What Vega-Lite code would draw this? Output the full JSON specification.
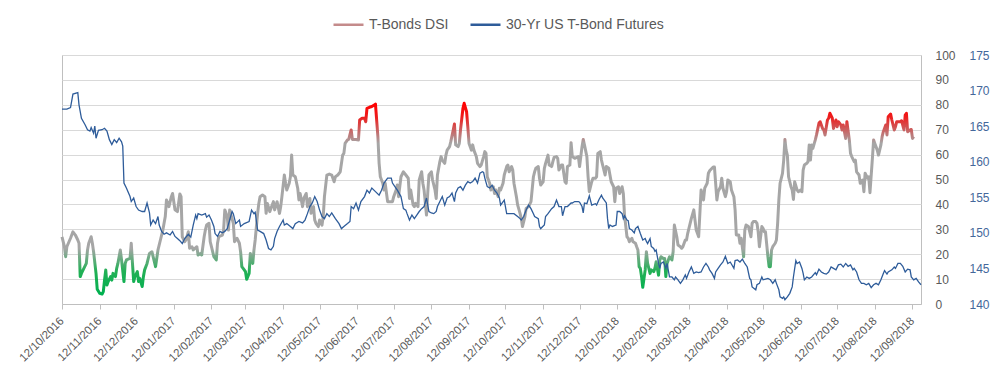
{
  "$schema": "https://vega.github.io/schema/vega-lite/v6.json",
  "width": 859,
  "height": 249,
  "autosize": {"type": "none"},
  "padding": {"left": 62, "top": 55, "right": 79, "bottom": 77},
  "background": "white",
  "config": {
    "font": "Liberation Sans",
    "view": {"stroke": "#bfbfbf", "strokeWidth": 1}
  },
  "datasets": {
    "dsi": [
      {"d":"2016-10-12","v":27.0},{"d":"2016-10-14","v":23.0},{"d":"2016-10-15","v":19.0},{"d":"2016-10-16","v":23.0},{"d":"2016-10-19","v":26.4},{"d":"2016-10-21","v":29.0},{"d":"2016-10-23","v":27.7},{"d":"2016-10-25","v":25.7},{"d":"2016-10-26","v":24.4},{"d":"2016-10-27","v":11.0},{"d":"2016-10-28","v":12.3},{"d":"2016-10-30","v":14.3},
      {"d":"2016-11-01","v":16.3},{"d":"2016-11-02","v":21.7},{"d":"2016-11-03","v":24.4},{"d":"2016-11-05","v":27.0},{"d":"2016-11-06","v":24.4},{"d":"2016-11-07","v":21.0},{"d":"2016-11-09","v":12.3},{"d":"2016-11-10","v":5.9},{"d":"2016-11-12","v":4.3},{"d":"2016-11-14","v":4.0},{"d":"2016-11-15","v":5.0},{"d":"2016-11-16","v":9.6},{"d":"2016-11-17","v":13.7},{"d":"2016-11-18","v":7.6},{"d":"2016-11-19","v":9.0},{"d":"2016-11-21","v":11.0},{"d":"2016-11-22","v":9.6},{"d":"2016-11-23","v":12.3},{"d":"2016-11-25","v":11.0},{"d":"2016-11-26","v":14.3},{"d":"2016-11-27","v":16.3},{"d":"2016-11-29","v":21.7},{"d":"2016-11-30","v":17.7},
      {"d":"2016-12-02","v":9.0},{"d":"2016-12-03","v":16.3},{"d":"2016-12-04","v":17.7},{"d":"2016-12-07","v":18.3},{"d":"2016-12-08","v":24.4},{"d":"2016-12-09","v":16.3},{"d":"2016-12-10","v":9.0},{"d":"2016-12-11","v":11.0},{"d":"2016-12-13","v":13.0},{"d":"2016-12-14","v":9.0},{"d":"2016-12-15","v":10.3},{"d":"2016-12-17","v":7.0},{"d":"2016-12-18","v":11.0},{"d":"2016-12-19","v":13.7},{"d":"2016-12-21","v":16.3},{"d":"2016-12-23","v":20.3},{"d":"2016-12-25","v":21.0},{"d":"2016-12-27","v":17.0},{"d":"2016-12-28","v":15.0},{"d":"2016-12-30","v":21.7},
      {"d":"2017-01-01","v":25.7},{"d":"2017-01-03","v":29.7},{"d":"2017-01-05","v":35.1},{"d":"2017-01-06","v":41.8},{"d":"2017-01-08","v":39.1},{"d":"2017-01-10","v":43.1},{"d":"2017-01-11","v":44.4},{"d":"2017-01-13","v":37.8},{"d":"2017-01-15","v":37.1},{"d":"2017-01-17","v":44.2},{"d":"2017-01-18","v":43.1},{"d":"2017-01-19","v":27.0},{"d":"2017-01-21","v":25.0},{"d":"2017-01-22","v":25.7},{"d":"2017-01-24","v":29.0},{"d":"2017-01-25","v":22.4},{"d":"2017-01-27","v":23.0},{"d":"2017-01-28","v":21.7},{"d":"2017-01-31","v":23.0},
      {"d":"2017-02-01","v":19.7},{"d":"2017-02-03","v":20.3},{"d":"2017-02-04","v":19.7},{"d":"2017-02-06","v":27.0},{"d":"2017-02-07","v":29.7},{"d":"2017-02-08","v":31.7},{"d":"2017-02-10","v":32.4},{"d":"2017-02-11","v":25.0},{"d":"2017-02-12","v":23.0},{"d":"2017-02-14","v":19.0},{"d":"2017-02-16","v":17.7},{"d":"2017-02-17","v":24.4},{"d":"2017-02-18","v":27.0},{"d":"2017-02-21","v":27.7},{"d":"2017-02-22","v":29.7},{"d":"2017-02-23","v":37.8},{"d":"2017-02-25","v":35.1},{"d":"2017-02-26","v":29.7},{"d":"2017-02-27","v":37.8},
      {"d":"2017-03-02","v":32.4},{"d":"2017-03-03","v":25.0},{"d":"2017-03-04","v":25.7},{"d":"2017-03-05","v":26.4},{"d":"2017-03-07","v":24.4},{"d":"2017-03-08","v":21.0},{"d":"2017-03-09","v":15.0},{"d":"2017-03-11","v":13.7},{"d":"2017-03-12","v":13.0},{"d":"2017-03-13","v":9.9},{"d":"2017-03-15","v":12.3},{"d":"2017-03-16","v":20.3},{"d":"2017-03-18","v":16.3},{"d":"2017-03-19","v":21.7},{"d":"2017-03-20","v":25.7},{"d":"2017-03-22","v":36.4},{"d":"2017-03-23","v":40.4},{"d":"2017-03-24","v":43.1},{"d":"2017-03-26","v":43.8},{"d":"2017-03-28","v":43.1},{"d":"2017-03-29","v":36.4},{"d":"2017-03-30","v":40.4},
      {"d":"2017-04-01","v":37.1},{"d":"2017-04-03","v":39.8},{"d":"2017-04-04","v":41.1},{"d":"2017-04-05","v":37.8},{"d":"2017-04-07","v":41.1},{"d":"2017-04-09","v":36.4},{"d":"2017-04-10","v":39.1},{"d":"2017-04-11","v":43.1},{"d":"2017-04-13","v":51.8},{"d":"2017-04-14","v":48.5},{"d":"2017-04-15","v":45.8},{"d":"2017-04-17","v":48.5},{"d":"2017-04-18","v":51.1},{"d":"2017-04-19","v":59.8},{"d":"2017-04-20","v":51.8},{"d":"2017-04-22","v":51.1},{"d":"2017-04-24","v":46.5},{"d":"2017-04-25","v":41.8},{"d":"2017-04-26","v":44.4},{"d":"2017-04-28","v":39.1},{"d":"2017-04-29","v":42.4},
      {"d":"2017-05-01","v":44.4},{"d":"2017-05-02","v":39.1},{"d":"2017-05-04","v":42.4},{"d":"2017-05-05","v":36.4},{"d":"2017-05-07","v":39.1},{"d":"2017-05-08","v":33.7},{"d":"2017-05-09","v":32.4},{"d":"2017-05-11","v":31.1},{"d":"2017-05-12","v":33.7},{"d":"2017-05-14","v":31.7},{"d":"2017-05-15","v":35.1},{"d":"2017-05-16","v":43.1},{"d":"2017-05-18","v":51.8},{"d":"2017-05-20","v":52.2},{"d":"2017-05-22","v":51.8},{"d":"2017-05-24","v":49.1},{"d":"2017-05-25","v":51.1},{"d":"2017-05-27","v":51.8},{"d":"2017-05-29","v":53.1},{"d":"2017-05-31","v":59.8},
      {"d":"2017-06-01","v":60.5},{"d":"2017-06-02","v":64.5},{"d":"2017-06-04","v":65.9},{"d":"2017-06-05","v":66.1},{"d":"2017-06-07","v":69.9},{"d":"2017-06-08","v":66.1},{"d":"2017-06-09","v":66.1},{"d":"2017-06-11","v":66.1},{"d":"2017-06-13","v":65.9},{"d":"2017-06-14","v":73.9},{"d":"2017-06-16","v":74.6},{"d":"2017-06-18","v":74.6},{"d":"2017-06-19","v":73.2},{"d":"2017-06-20","v":78.6},{"d":"2017-06-22","v":79.0},{"d":"2017-06-24","v":79.3},{"d":"2017-06-26","v":79.9},{"d":"2017-06-27","v":80.3},{"d":"2017-06-29","v":67.2},{"d":"2017-06-30","v":56.5},
      {"d":"2017-07-01","v":51.1},{"d":"2017-07-03","v":48.5},{"d":"2017-07-04","v":45.8},{"d":"2017-07-05","v":48.5},{"d":"2017-07-07","v":41.1},{"d":"2017-07-09","v":41.1},{"d":"2017-07-11","v":41.1},{"d":"2017-07-12","v":43.1},{"d":"2017-07-14","v":45.8},{"d":"2017-07-15","v":47.8},{"d":"2017-07-16","v":43.1},{"d":"2017-07-18","v":51.1},{"d":"2017-07-20","v":53.1},{"d":"2017-07-22","v":51.8},{"d":"2017-07-24","v":50.5},{"d":"2017-07-25","v":42.4},{"d":"2017-07-26","v":45.8},{"d":"2017-07-28","v":39.8},{"d":"2017-07-29","v":39.1},{"d":"2017-07-30","v":40.4},
      {"d":"2017-08-01","v":39.1},{"d":"2017-08-02","v":49.8},{"d":"2017-08-04","v":53.1},{"d":"2017-08-05","v":48.5},{"d":"2017-08-06","v":45.8},{"d":"2017-08-08","v":35.7},{"d":"2017-08-09","v":44.4},{"d":"2017-08-10","v":51.8},{"d":"2017-08-12","v":53.1},{"d":"2017-08-13","v":49.8},{"d":"2017-08-15","v":45.8},{"d":"2017-08-16","v":42.4},{"d":"2017-08-17","v":51.8},{"d":"2017-08-19","v":57.2},{"d":"2017-08-20","v":59.2},{"d":"2017-08-21","v":57.8},{"d":"2017-08-23","v":56.5},{"d":"2017-08-24","v":59.8},{"d":"2017-08-25","v":61.8},{"d":"2017-08-27","v":63.2},{"d":"2017-08-28","v":65.2},{"d":"2017-08-30","v":69.9},{"d":"2017-08-31","v":72.3},
      {"d":"2017-09-01","v":63.9},{"d":"2017-09-03","v":63.2},{"d":"2017-09-04","v":64.5},{"d":"2017-09-05","v":69.9},{"d":"2017-09-07","v":78.6},{"d":"2017-09-08","v":80.6},{"d":"2017-09-10","v":77.2},{"d":"2017-09-11","v":71.2},{"d":"2017-09-12","v":64.5},{"d":"2017-09-14","v":61.8},{"d":"2017-09-15","v":63.9},{"d":"2017-09-16","v":61.8},{"d":"2017-09-18","v":59.2},{"d":"2017-09-19","v":56.5},{"d":"2017-09-21","v":55.2},{"d":"2017-09-22","v":55.8},{"d":"2017-09-24","v":59.2},{"d":"2017-09-25","v":61.2},{"d":"2017-09-26","v":60.5},{"d":"2017-09-27","v":51.1},{"d":"2017-09-29","v":48.5},{"d":"2017-09-30","v":45.8},
      {"d":"2017-10-02","v":47.1},{"d":"2017-10-03","v":44.4},{"d":"2017-10-04","v":45.8},{"d":"2017-10-06","v":43.1},{"d":"2017-10-07","v":46.5},{"d":"2017-10-08","v":45.8},{"d":"2017-10-10","v":48.5},{"d":"2017-10-11","v":51.8},{"d":"2017-10-13","v":55.2},{"d":"2017-10-14","v":55.8},{"d":"2017-10-15","v":53.1},{"d":"2017-10-17","v":55.2},{"d":"2017-10-18","v":53.8},{"d":"2017-10-19","v":48.5},{"d":"2017-10-21","v":43.1},{"d":"2017-10-22","v":39.8},{"d":"2017-10-24","v":36.4},{"d":"2017-10-25","v":34.4},{"d":"2017-10-26","v":31.1},{"d":"2017-10-28","v":35.1},{"d":"2017-10-29","v":38.4},{"d":"2017-10-31","v":39.1},
      {"d":"2017-11-02","v":41.1},{"d":"2017-11-04","v":51.1},{"d":"2017-11-05","v":53.1},{"d":"2017-11-06","v":54.5},{"d":"2017-11-08","v":55.2},{"d":"2017-11-09","v":50.5},{"d":"2017-11-10","v":47.8},{"d":"2017-11-12","v":49.1},{"d":"2017-11-13","v":54.5},{"d":"2017-11-14","v":56.5},{"d":"2017-11-16","v":59.8},{"d":"2017-11-17","v":55.8},{"d":"2017-11-19","v":55.2},{"d":"2017-11-20","v":57.2},{"d":"2017-11-21","v":58.9},{"d":"2017-11-23","v":59.2},{"d":"2017-11-24","v":58.5},{"d":"2017-11-25","v":53.8},{"d":"2017-11-27","v":55.8},{"d":"2017-11-28","v":55.8},{"d":"2017-11-30","v":49.1},
      {"d":"2017-12-01","v":48.5},{"d":"2017-12-02","v":55.2},{"d":"2017-12-04","v":55.8},{"d":"2017-12-05","v":64.8},{"d":"2017-12-06","v":59.2},{"d":"2017-12-08","v":58.5},{"d":"2017-12-11","v":59.2},{"d":"2017-12-12","v":55.2},{"d":"2017-12-14","v":63.2},{"d":"2017-12-15","v":66.1},{"d":"2017-12-16","v":63.9},{"d":"2017-12-18","v":59.2},{"d":"2017-12-19","v":51.1},{"d":"2017-12-20","v":45.1},{"d":"2017-12-22","v":49.1},{"d":"2017-12-23","v":50.5},{"d":"2017-12-25","v":50.5},{"d":"2017-12-26","v":51.1},{"d":"2017-12-27","v":60.5},{"d":"2017-12-29","v":61.2},{"d":"2017-12-30","v":57.8},{"d":"2017-12-31","v":55.8},
      {"d":"2018-01-02","v":51.8},{"d":"2018-01-03","v":55.2},{"d":"2018-01-05","v":54.5},{"d":"2018-01-06","v":51.8},{"d":"2018-01-07","v":49.1},{"d":"2018-01-09","v":47.1},{"d":"2018-01-10","v":41.1},{"d":"2018-01-11","v":46.5},{"d":"2018-01-13","v":47.1},{"d":"2018-01-14","v":44.4},{"d":"2018-01-16","v":47.1},{"d":"2018-01-17","v":44.4},{"d":"2018-01-18","v":35.7},{"d":"2018-01-20","v":27.0},{"d":"2018-01-21","v":26.4},{"d":"2018-01-22","v":25.0},{"d":"2018-01-24","v":26.4},{"d":"2018-01-25","v":25.0},{"d":"2018-01-27","v":24.4},{"d":"2018-01-28","v":23.0},{"d":"2018-01-29","v":21.7},{"d":"2018-01-30","v":15.0},{"d":"2018-01-31","v":14.3},
      {"d":"2018-02-01","v":11.0},{"d":"2018-02-02","v":6.7},{"d":"2018-02-04","v":13.7},{"d":"2018-02-05","v":21.0},{"d":"2018-02-06","v":16.3},{"d":"2018-02-08","v":12.3},{"d":"2018-02-09","v":13.7},{"d":"2018-02-11","v":13.0},{"d":"2018-02-12","v":14.3},{"d":"2018-02-13","v":17.0},{"d":"2018-02-15","v":11.6},{"d":"2018-02-16","v":17.7},{"d":"2018-02-17","v":19.0},{"d":"2018-02-19","v":18.3},{"d":"2018-02-20","v":18.3},{"d":"2018-02-21","v":11.0},{"d":"2018-02-22","v":16.3},{"d":"2018-02-24","v":19.0},{"d":"2018-02-26","v":17.7},{"d":"2018-02-27","v":21.0},{"d":"2018-02-28","v":31.7},
      {"d":"2018-03-02","v":27.0},{"d":"2018-03-03","v":23.7},{"d":"2018-03-05","v":23.0},{"d":"2018-03-06","v":22.4},{"d":"2018-03-07","v":23.0},{"d":"2018-03-09","v":25.7},{"d":"2018-03-10","v":25.7},{"d":"2018-03-11","v":28.4},{"d":"2018-03-13","v":32.4},{"d":"2018-03-14","v":34.4},{"d":"2018-03-16","v":37.8},{"d":"2018-03-17","v":33.7},{"d":"2018-03-18","v":29.7},{"d":"2018-03-20","v":27.0},{"d":"2018-03-21","v":36.4},{"d":"2018-03-22","v":45.8},{"d":"2018-03-24","v":41.8},{"d":"2018-03-25","v":46.5},{"d":"2018-03-27","v":48.5},{"d":"2018-03-28","v":52.5},{"d":"2018-03-29","v":53.5},{"d":"2018-03-31","v":54.5},
      {"d":"2018-04-01","v":55.0},{"d":"2018-04-02","v":55.0},{"d":"2018-04-04","v":41.8},{"d":"2018-04-05","v":45.1},{"d":"2018-04-07","v":47.1},{"d":"2018-04-08","v":50.5},{"d":"2018-04-09","v":46.5},{"d":"2018-04-11","v":43.1},{"d":"2018-04-12","v":45.1},{"d":"2018-04-13","v":49.8},{"d":"2018-04-15","v":49.1},{"d":"2018-04-16","v":45.8},{"d":"2018-04-18","v":43.1},{"d":"2018-04-19","v":37.8},{"d":"2018-04-20","v":27.7},{"d":"2018-04-22","v":27.7},{"d":"2018-04-23","v":24.4},{"d":"2018-04-24","v":26.4},{"d":"2018-04-26","v":19.0},{"d":"2018-04-27","v":29.7},{"d":"2018-04-28","v":31.7},{"d":"2018-04-30","v":31.1},
      {"d":"2018-05-02","v":27.0},{"d":"2018-05-03","v":32.4},{"d":"2018-05-04","v":33.1},{"d":"2018-05-06","v":33.1},{"d":"2018-05-07","v":32.4},{"d":"2018-05-08","v":29.0},{"d":"2018-05-09","v":23.0},{"d":"2018-05-11","v":31.1},{"d":"2018-05-12","v":30.4},{"d":"2018-05-13","v":29.0},{"d":"2018-05-14","v":29.0},{"d":"2018-05-16","v":19.0},{"d":"2018-05-17","v":15.0},{"d":"2018-05-18","v":15.0},{"d":"2018-05-19","v":21.7},{"d":"2018-05-20","v":23.0},{"d":"2018-05-22","v":24.4},{"d":"2018-05-23","v":25.7},{"d":"2018-05-24","v":32.4},{"d":"2018-05-25","v":41.8},{"d":"2018-05-26","v":48.5},{"d":"2018-05-28","v":52.5},{"d":"2018-05-29","v":57.8},{"d":"2018-05-30","v":66.1},{"d":"2018-05-31","v":61.8},
      {"d":"2018-06-01","v":59.8},{"d":"2018-06-02","v":51.1},{"d":"2018-06-03","v":49.1},{"d":"2018-06-04","v":47.1},{"d":"2018-06-05","v":45.8},{"d":"2018-06-06","v":42.0},{"d":"2018-06-07","v":49.1},{"d":"2018-06-09","v":45.8},{"d":"2018-06-10","v":45.1},{"d":"2018-06-12","v":45.8},{"d":"2018-06-13","v":45.1},{"d":"2018-06-14","v":53.8},{"d":"2018-06-15","v":55.8},{"d":"2018-06-17","v":56.5},{"d":"2018-06-18","v":57.2},{"d":"2018-06-19","v":63.9},{"d":"2018-06-20","v":57.8},{"d":"2018-06-21","v":63.9},{"d":"2018-06-22","v":62.5},{"d":"2018-06-24","v":65.9},{"d":"2018-06-25","v":67.9},{"d":"2018-06-27","v":72.6},{"d":"2018-06-28","v":73.2},{"d":"2018-06-30","v":70.5},
      {"d":"2018-07-01","v":69.9},{"d":"2018-07-02","v":67.9},{"d":"2018-07-04","v":73.9},{"d":"2018-07-05","v":74.6},{"d":"2018-07-06","v":76.6},{"d":"2018-07-08","v":74.6},{"d":"2018-07-09","v":70.5},{"d":"2018-07-11","v":73.9},{"d":"2018-07-12","v":71.2},{"d":"2018-07-13","v":73.2},{"d":"2018-07-15","v":71.9},{"d":"2018-07-16","v":69.9},{"d":"2018-07-17","v":71.9},{"d":"2018-07-19","v":66.5},{"d":"2018-07-20","v":73.2},{"d":"2018-07-22","v":65.9},{"d":"2018-07-23","v":60.5},{"d":"2018-07-24","v":59.2},{"d":"2018-07-26","v":57.2},{"d":"2018-07-27","v":57.8},{"d":"2018-07-28","v":53.1},{"d":"2018-07-30","v":51.8},{"d":"2018-07-31","v":48.5},
      {"d":"2018-08-02","v":49.8},{"d":"2018-08-03","v":45.1},{"d":"2018-08-04","v":52.5},{"d":"2018-08-06","v":50.5},{"d":"2018-08-07","v":51.1},{"d":"2018-08-08","v":44.7},{"d":"2018-08-10","v":58.5},{"d":"2018-08-11","v":65.9},{"d":"2018-08-12","v":64.5},{"d":"2018-08-14","v":61.8},{"d":"2018-08-15","v":59.8},{"d":"2018-08-17","v":63.9},{"d":"2018-08-18","v":67.2},{"d":"2018-08-19","v":69.2},{"d":"2018-08-21","v":71.9},{"d":"2018-08-22","v":67.9},{"d":"2018-08-23","v":75.2},{"d":"2018-08-25","v":76.3},{"d":"2018-08-26","v":73.9},{"d":"2018-08-28","v":69.9},{"d":"2018-08-29","v":71.2},{"d":"2018-08-30","v":73.2},
      {"d":"2018-09-01","v":73.2},{"d":"2018-09-02","v":73.2},{"d":"2018-09-03","v":73.6},{"d":"2018-09-05","v":69.9},{"d":"2018-09-06","v":75.9},{"d":"2018-09-07","v":76.6},{"d":"2018-09-08","v":69.2},{"d":"2018-09-10","v":69.9},{"d":"2018-09-11","v":70.1},{"d":"2018-09-12","v":66.5},{"d":"2018-09-13","v":67.2}
    ],
    "fut": [
      {"d":"2016-10-12","v":167.4},{"d":"2016-10-16","v":167.4},{"d":"2016-10-19","v":167.6},{"d":"2016-10-21","v":169.5},{"d":"2016-10-25","v":169.7},{"d":"2016-10-26","v":168.0},{"d":"2016-10-28","v":166.1},{"d":"2016-10-31","v":165.2},
      {"d":"2016-11-02","v":164.5},{"d":"2016-11-04","v":164.3},{"d":"2016-11-05","v":164.8},{"d":"2016-11-07","v":164.0},{"d":"2016-11-08","v":165.0},{"d":"2016-11-09","v":163.3},{"d":"2016-11-11","v":164.4},{"d":"2016-11-14","v":164.5},{"d":"2016-11-16","v":164.7},{"d":"2016-11-18","v":164.3},{"d":"2016-11-20","v":163.1},{"d":"2016-11-22","v":162.4},{"d":"2016-11-24","v":163.1},{"d":"2016-11-26","v":162.7},{"d":"2016-11-28","v":163.3},{"d":"2016-11-30","v":162.8},
      {"d":"2016-12-01","v":162.2},{"d":"2016-12-02","v":157.0},{"d":"2016-12-04","v":156.3},{"d":"2016-12-07","v":155.1},{"d":"2016-12-08","v":154.4},{"d":"2016-12-10","v":154.9},{"d":"2016-12-12","v":153.7},{"d":"2016-12-14","v":153.2},{"d":"2016-12-17","v":153.0},{"d":"2016-12-19","v":153.0},{"d":"2016-12-21","v":154.2},{"d":"2016-12-23","v":152.8},{"d":"2016-12-24","v":151.1},{"d":"2016-12-26","v":151.8},{"d":"2016-12-28","v":151.3},{"d":"2016-12-30","v":152.3},{"d":"2016-12-31","v":151.1},
      {"d":"2017-01-02","v":150.2},{"d":"2017-01-04","v":149.8},{"d":"2017-01-06","v":150.0},{"d":"2017-01-09","v":149.7},{"d":"2017-01-11","v":150.2},{"d":"2017-01-13","v":149.5},{"d":"2017-01-15","v":149.2},{"d":"2017-01-17","v":148.9},{"d":"2017-01-19","v":148.5},{"d":"2017-01-21","v":149.2},{"d":"2017-01-24","v":149.8},{"d":"2017-01-26","v":149.4},{"d":"2017-01-28","v":151.1},{"d":"2017-01-30","v":152.5},{"d":"2017-01-31","v":152.0},
      {"d":"2017-02-01","v":152.7},{"d":"2017-02-04","v":152.5},{"d":"2017-02-07","v":152.7},{"d":"2017-02-08","v":152.2},{"d":"2017-02-10","v":152.5},{"d":"2017-02-12","v":151.8},{"d":"2017-02-14","v":150.9},{"d":"2017-02-15","v":149.9},{"d":"2017-02-17","v":149.5},{"d":"2017-02-19","v":150.2},{"d":"2017-02-21","v":150.0},{"d":"2017-02-23","v":150.2},{"d":"2017-02-25","v":150.6},{"d":"2017-02-27","v":151.8},
      {"d":"2017-03-01","v":153.0},{"d":"2017-03-02","v":152.7},{"d":"2017-03-04","v":151.3},{"d":"2017-03-07","v":151.8},{"d":"2017-03-08","v":150.9},{"d":"2017-03-11","v":151.3},{"d":"2017-03-15","v":151.6},{"d":"2017-03-17","v":153.2},{"d":"2017-03-19","v":152.7},{"d":"2017-03-20","v":152.9},{"d":"2017-03-22","v":150.4},{"d":"2017-03-24","v":150.2},{"d":"2017-03-27","v":149.9},{"d":"2017-03-29","v":149.0},{"d":"2017-03-31","v":147.8},
      {"d":"2017-04-02","v":147.6},{"d":"2017-04-04","v":148.1},{"d":"2017-04-05","v":149.2},{"d":"2017-04-07","v":150.2},{"d":"2017-04-09","v":150.9},{"d":"2017-04-12","v":151.8},{"d":"2017-04-13","v":151.1},{"d":"2017-04-15","v":151.3},{"d":"2017-04-18","v":150.9},{"d":"2017-04-20","v":150.6},{"d":"2017-04-22","v":151.3},{"d":"2017-04-25","v":151.6},{"d":"2017-04-28","v":151.4},{"d":"2017-04-30","v":151.8},
      {"d":"2017-05-02","v":152.7},{"d":"2017-05-04","v":153.7},{"d":"2017-05-06","v":154.2},{"d":"2017-05-08","v":155.1},{"d":"2017-05-10","v":154.4},{"d":"2017-05-12","v":153.2},{"d":"2017-05-14","v":152.3},{"d":"2017-05-16","v":152.0},{"d":"2017-05-18","v":152.7},{"d":"2017-05-20","v":152.3},{"d":"2017-05-22","v":152.8},{"d":"2017-05-25","v":152.0},{"d":"2017-05-28","v":151.3},{"d":"2017-05-30","v":150.6},
      {"d":"2017-06-01","v":150.9},{"d":"2017-06-04","v":151.3},{"d":"2017-06-06","v":151.6},{"d":"2017-06-07","v":153.7},{"d":"2017-06-09","v":153.4},{"d":"2017-06-11","v":154.2},{"d":"2017-06-13","v":153.2},{"d":"2017-06-15","v":154.4},{"d":"2017-06-18","v":155.1},{"d":"2017-06-20","v":156.0},{"d":"2017-06-22","v":155.6},{"d":"2017-06-24","v":156.3},{"d":"2017-06-27","v":155.8},{"d":"2017-06-30","v":155.3},
      {"d":"2017-07-02","v":156.0},{"d":"2017-07-04","v":157.0},{"d":"2017-07-07","v":157.7},{"d":"2017-07-10","v":157.7},{"d":"2017-07-11","v":157.0},{"d":"2017-07-13","v":156.5},{"d":"2017-07-15","v":156.0},{"d":"2017-07-18","v":155.1},{"d":"2017-07-20","v":153.4},{"d":"2017-07-22","v":153.2},{"d":"2017-07-23","v":152.7},{"d":"2017-07-25","v":151.8},{"d":"2017-07-27","v":152.5},{"d":"2017-07-29","v":152.0},{"d":"2017-07-31","v":152.5},
      {"d":"2017-08-02","v":153.0},{"d":"2017-08-04","v":153.4},{"d":"2017-08-06","v":153.7},{"d":"2017-08-08","v":154.9},{"d":"2017-08-10","v":153.0},{"d":"2017-08-12","v":152.8},{"d":"2017-08-14","v":152.7},{"d":"2017-08-16","v":153.0},{"d":"2017-08-17","v":153.7},{"d":"2017-08-19","v":154.4},{"d":"2017-08-21","v":155.1},{"d":"2017-08-23","v":153.9},{"d":"2017-08-25","v":154.9},{"d":"2017-08-27","v":155.1},{"d":"2017-08-29","v":155.6},{"d":"2017-08-31","v":154.4},
      {"d":"2017-09-01","v":155.6},{"d":"2017-09-03","v":156.3},{"d":"2017-09-05","v":156.5},{"d":"2017-09-07","v":156.0},{"d":"2017-09-09","v":156.7},{"d":"2017-09-11","v":157.2},{"d":"2017-09-13","v":157.0},{"d":"2017-09-15","v":157.2},{"d":"2017-09-17","v":157.7},{"d":"2017-09-19","v":157.0},{"d":"2017-09-21","v":158.4},{"d":"2017-09-23","v":158.6},{"d":"2017-09-24","v":158.5},{"d":"2017-09-25","v":157.7},{"d":"2017-09-27","v":156.5},{"d":"2017-09-29","v":156.3},
      {"d":"2017-10-01","v":156.7},{"d":"2017-10-03","v":156.0},{"d":"2017-10-05","v":155.6},{"d":"2017-10-07","v":154.9},{"d":"2017-10-08","v":153.9},{"d":"2017-10-11","v":154.6},{"d":"2017-10-13","v":152.7},{"d":"2017-10-14","v":152.7},{"d":"2017-10-17","v":152.7},{"d":"2017-10-19","v":152.7},{"d":"2017-10-22","v":152.3},{"d":"2017-10-24","v":152.0},{"d":"2017-10-25","v":151.8},{"d":"2017-10-27","v":152.3},{"d":"2017-10-29","v":153.2},{"d":"2017-10-31","v":153.9},
      {"d":"2017-11-02","v":153.4},{"d":"2017-11-04","v":152.7},{"d":"2017-11-05","v":152.3},{"d":"2017-11-08","v":152.0},{"d":"2017-11-09","v":150.9},{"d":"2017-11-10","v":150.6},{"d":"2017-11-13","v":151.1},{"d":"2017-11-14","v":152.3},{"d":"2017-11-16","v":152.7},{"d":"2017-11-19","v":153.4},{"d":"2017-11-21","v":153.7},{"d":"2017-11-23","v":154.6},{"d":"2017-11-25","v":153.7},{"d":"2017-11-27","v":153.7},{"d":"2017-11-28","v":152.4},{"d":"2017-11-30","v":153.7},
      {"d":"2017-12-02","v":153.7},{"d":"2017-12-05","v":154.2},{"d":"2017-12-06","v":154.2},{"d":"2017-12-08","v":154.4},{"d":"2017-12-11","v":154.4},{"d":"2017-12-12","v":154.3},{"d":"2017-12-14","v":153.7},{"d":"2017-12-15","v":152.8},{"d":"2017-12-16","v":154.2},{"d":"2017-12-18","v":154.1},{"d":"2017-12-20","v":155.2},{"d":"2017-12-22","v":153.9},{"d":"2017-12-25","v":154.1},{"d":"2017-12-26","v":153.9},{"d":"2017-12-28","v":154.7},{"d":"2017-12-30","v":155.3},{"d":"2017-12-31","v":154.9},
      {"d":"2018-01-03","v":154.2},{"d":"2018-01-04","v":152.0},{"d":"2018-01-05","v":150.6},{"d":"2018-01-06","v":151.1},{"d":"2018-01-08","v":150.9},{"d":"2018-01-11","v":151.1},{"d":"2018-01-12","v":153.0},{"d":"2018-01-14","v":153.0},{"d":"2018-01-16","v":152.7},{"d":"2018-01-17","v":152.0},{"d":"2018-01-18","v":152.4},{"d":"2018-01-20","v":151.8},{"d":"2018-01-21","v":151.7},{"d":"2018-01-22","v":150.6},{"d":"2018-01-24","v":150.4},{"d":"2018-01-26","v":150.0},{"d":"2018-01-27","v":150.6},{"d":"2018-01-29","v":150.9},{"d":"2018-01-31","v":149.9},
      {"d":"2018-02-02","v":149.0},{"d":"2018-02-04","v":149.2},{"d":"2018-02-05","v":148.8},{"d":"2018-02-06","v":148.5},{"d":"2018-02-08","v":149.2},{"d":"2018-02-09","v":148.1},{"d":"2018-02-11","v":147.8},{"d":"2018-02-12","v":147.4},{"d":"2018-02-13","v":147.6},{"d":"2018-02-15","v":145.7},{"d":"2018-02-16","v":145.0},{"d":"2018-02-17","v":145.7},{"d":"2018-02-19","v":145.9},{"d":"2018-02-21","v":145.0},{"d":"2018-02-22","v":145.7},{"d":"2018-02-24","v":143.8},{"d":"2018-02-26","v":143.8},{"d":"2018-02-28","v":143.4},
      {"d":"2018-03-01","v":143.8},{"d":"2018-03-03","v":143.4},{"d":"2018-03-05","v":142.9},{"d":"2018-03-07","v":143.4},{"d":"2018-03-09","v":144.1},{"d":"2018-03-10","v":143.6},{"d":"2018-03-12","v":144.5},{"d":"2018-03-14","v":145.2},{"d":"2018-03-16","v":144.3},{"d":"2018-03-18","v":144.5},{"d":"2018-03-20","v":144.4},{"d":"2018-03-22","v":144.5},{"d":"2018-03-24","v":145.2},{"d":"2018-03-26","v":145.7},{"d":"2018-03-28","v":145.2},{"d":"2018-03-29","v":144.8},{"d":"2018-03-31","v":144.3},
      {"d":"2018-04-02","v":143.6},{"d":"2018-04-03","v":144.5},{"d":"2018-04-05","v":145.0},{"d":"2018-04-07","v":145.5},{"d":"2018-04-09","v":145.9},{"d":"2018-04-11","v":146.7},{"d":"2018-04-13","v":145.7},{"d":"2018-04-15","v":145.9},{"d":"2018-04-18","v":145.0},{"d":"2018-04-19","v":146.1},{"d":"2018-04-21","v":146.2},{"d":"2018-04-23","v":145.9},{"d":"2018-04-25","v":146.3},{"d":"2018-04-27","v":145.7},{"d":"2018-04-29","v":145.2},
      {"d":"2018-05-01","v":143.6},{"d":"2018-05-02","v":143.4},{"d":"2018-05-03","v":142.4},{"d":"2018-05-06","v":142.0},{"d":"2018-05-07","v":142.7},{"d":"2018-05-09","v":142.9},{"d":"2018-05-11","v":143.8},{"d":"2018-05-12","v":143.4},{"d":"2018-05-14","v":143.5},{"d":"2018-05-16","v":143.6},{"d":"2018-05-18","v":143.4},{"d":"2018-05-20","v":142.9},{"d":"2018-05-22","v":143.4},{"d":"2018-05-23","v":142.9},{"d":"2018-05-25","v":142.0},{"d":"2018-05-26","v":141.0},{"d":"2018-05-28","v":140.8},{"d":"2018-05-29","v":141.0},{"d":"2018-05-30","v":140.6},
      {"d":"2018-06-01","v":141.0},{"d":"2018-06-03","v":141.5},{"d":"2018-06-05","v":142.4},{"d":"2018-06-06","v":143.8},{"d":"2018-06-08","v":146.1},{"d":"2018-06-09","v":145.7},{"d":"2018-06-11","v":145.9},{"d":"2018-06-13","v":145.0},{"d":"2018-06-14","v":144.3},{"d":"2018-06-15","v":143.4},{"d":"2018-06-17","v":143.8},{"d":"2018-06-19","v":143.6},{"d":"2018-06-21","v":143.8},{"d":"2018-06-24","v":144.4},{"d":"2018-06-25","v":144.1},{"d":"2018-06-27","v":144.9},{"d":"2018-06-29","v":144.5},
      {"d":"2018-07-01","v":144.3},{"d":"2018-07-03","v":144.2},{"d":"2018-07-05","v":144.5},{"d":"2018-07-07","v":145.2},{"d":"2018-07-09","v":145.0},{"d":"2018-07-11","v":144.8},{"d":"2018-07-13","v":145.5},{"d":"2018-07-15","v":145.6},{"d":"2018-07-17","v":145.2},{"d":"2018-07-19","v":145.7},{"d":"2018-07-21","v":145.3},{"d":"2018-07-23","v":145.5},{"d":"2018-07-25","v":144.8},{"d":"2018-07-26","v":145.0},{"d":"2018-07-28","v":144.5},{"d":"2018-07-30","v":143.4},
      {"d":"2018-08-01","v":142.9},{"d":"2018-08-03","v":142.9},{"d":"2018-08-05","v":142.7},{"d":"2018-08-07","v":142.9},{"d":"2018-08-09","v":142.3},{"d":"2018-08-11","v":142.7},{"d":"2018-08-13","v":142.9},{"d":"2018-08-15","v":142.7},{"d":"2018-08-17","v":143.4},{"d":"2018-08-19","v":144.3},{"d":"2018-08-20","v":144.7},{"d":"2018-08-22","v":144.2},{"d":"2018-08-23","v":144.5},{"d":"2018-08-26","v":144.8},{"d":"2018-08-28","v":145.2},{"d":"2018-08-29","v":145.0},{"d":"2018-08-31","v":145.7},
      {"d":"2018-09-02","v":145.7},{"d":"2018-09-04","v":145.3},{"d":"2018-09-06","v":144.5},{"d":"2018-09-08","v":144.9},{"d":"2018-09-10","v":144.8},{"d":"2018-09-11","v":143.8},{"d":"2018-09-13","v":143.4},{"d":"2018-09-15","v":143.6},{"d":"2018-09-17","v":143.1},{"d":"2018-09-19","v":142.7}
    ]
  },
  "encoding": {
    "x": {
      "field": "d",
      "type": "temporal",
      "scale": {
        "type": "utc",
        "nice": false,
        "domain": [{"year": 2016, "month": 10, "date": 12, "utc": true}, {"year": 2018, "month": 9, "date": 19, "utc": true}]
      },
      "axis": {
        "title": null,
        "values": [
          {"year": 2016, "month": 10, "date": 12, "utc": true},
          {"year": 2016, "month": 11, "date": 12, "utc": true},
          {"year": 2016, "month": 12, "date": 12, "utc": true},
          {"year": 2017, "month": 1, "date": 12, "utc": true},
          {"year": 2017, "month": 2, "date": 12, "utc": true},
          {"year": 2017, "month": 3, "date": 12, "utc": true},
          {"year": 2017, "month": 4, "date": 12, "utc": true},
          {"year": 2017, "month": 5, "date": 12, "utc": true},
          {"year": 2017, "month": 6, "date": 12, "utc": true},
          {"year": 2017, "month": 7, "date": 12, "utc": true},
          {"year": 2017, "month": 8, "date": 12, "utc": true},
          {"year": 2017, "month": 9, "date": 12, "utc": true},
          {"year": 2017, "month": 10, "date": 12, "utc": true},
          {"year": 2017, "month": 11, "date": 12, "utc": true},
          {"year": 2017, "month": 12, "date": 12, "utc": true},
          {"year": 2018, "month": 1, "date": 12, "utc": true},
          {"year": 2018, "month": 2, "date": 12, "utc": true},
          {"year": 2018, "month": 3, "date": 12, "utc": true},
          {"year": 2018, "month": 4, "date": 12, "utc": true},
          {"year": 2018, "month": 5, "date": 12, "utc": true},
          {"year": 2018, "month": 6, "date": 12, "utc": true},
          {"year": 2018, "month": 7, "date": 12, "utc": true},
          {"year": 2018, "month": 8, "date": 12, "utc": true},
          {"year": 2018, "month": 9, "date": 12, "utc": true}
        ],
        "labelExpr": "utcFormat(datum.value, '%d/%m/%Y')",
        "labelAngle": -45,
        "labelAlign": "right",
        "labelBaseline": "middle",
        "labelFontSize": 11.5,
        "labelColor": "#595959",
        "labelPadding": 10,
        "labelOverlap": false,
        "labelFlush": false,
        "tickColor": "#bfbfbf",
        "tickSize": 5,
        "domainColor": "#bfbfbf",
        "grid": false
      }
    }
  },
  "layer": [
    {
      "data": {"name": "dsi"},
      "mark": {
        "type": "line",
        "strokeWidth": 3,
        "strokeJoin": "round",
        "stroke": {
          "gradient": "linear",
          "x1": 0, "y1": 0, "x2": 0, "y2": 1,
          "stops": [
            {"offset": 0, "color": "#ff0000"},
            {"offset": 0.07, "color": "#ee1c1c"},
            {"offset": 0.21, "color": "#a6a6a6"},
            {"offset": 0.76, "color": "#a6a6a6"},
            {"offset": 0.88, "color": "#22b055"},
            {"offset": 1, "color": "#00b050"}
          ]
        }
      },
      "encoding": {
        "y": {
          "field": "v",
          "type": "quantitative",
          "scale": {"domain": [0, 100], "nice": false},
          "axis": {
            "orient": "right",
            "title": null,
            "values": [0, 10, 20, 30, 40, 50, 60, 70, 80, 90, 100],
            "grid": true,
            "gridColor": "#d9d9d9",
            "domain": false,
            "ticks": false,
            "labelPadding": 14,
            "labelFontSize": 12,
            "labelColor": "#595959"
          }
        }
      }
    },
    {
      "data": {"name": "fut"},
      "mark": {"type": "line", "strokeWidth": 1.3},
      "encoding": {
        "y": {
          "field": "v",
          "type": "quantitative",
          "scale": {"domain": [140, 175], "nice": false},
          "axis": {
            "orient": "right",
            "title": null,
            "values": [140, 145, 150, 155, 160, 165, 170, 175],
            "grid": false,
            "domain": false,
            "ticks": false,
            "labelPadding": 48,
            "labelFontSize": 12,
            "labelColor": "#44679b"
          }
        },
        "color": {
          "datum": "30-Yr US T-Bond Futures",
          "type": "nominal",
          "scale": {"domain": ["T-Bonds DSI", "30-Yr US T-Bond Futures"], "range": ["#c48b8b", "#2e5c9a"]},
          "legend": {
            "title": null,
            "orient": "none",
            "legendX": 270,
            "legendY": -47,
            "direction": "horizontal",
            "symbolType": "stroke",
            "symbolSize": 900,
            "symbolStrokeWidth": 2.5,
            "labelFontSize": 14,
            "labelColor": "#595959",
            "labelOffset": 4,
            "columnPadding": 16
          }
        }
      }
    }
  ],
  "resolve": {"scale": {"y": "independent", "color": "shared"}, "axis": {"y": "independent"}}
}
